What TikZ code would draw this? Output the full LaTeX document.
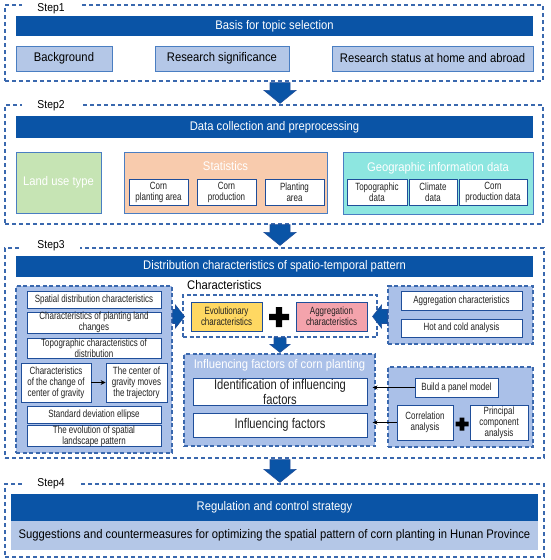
\documentclass[tikz,border=0pt]{standalone}
\usepackage{fontspec}
\setmainfont[FakeStretch=0.9]{Liberation Sans}
\newfontfamily\narrowfont[FakeStretch=0.76]{Liberation Sans}
\newfontfamily\midfont[FakeStretch=0.8]{Liberation Sans}
\usetikzlibrary{calc,arrows.meta}
\definecolor{barblue}{HTML}{0A54A6}
\definecolor{lightbox}{HTML}{B4C7E7}
\definecolor{boxedge}{HTML}{4A7EC2}
\definecolor{dashblue}{HTML}{3A68AE}
\definecolor{panelfill}{HTML}{AAC0E8}
\definecolor{inedge}{HTML}{1F4E9A}
\definecolor{landgreen}{HTML}{C6E4B4}
\definecolor{peach}{HTML}{F8CBAD}
\definecolor{turq}{HTML}{8DE6E0}
\definecolor{yellowbox}{HTML}{FFD862}
\definecolor{pinkbox}{HTML}{F4A3AC}
\definecolor{arrowblue}{HTML}{0A54A6}
\definecolor{softtext}{HTML}{222222}
\newcommand\downblock[5]{%
  \path[block] let \p1=(#1), \p2=(#2) in
  (\x1-#3,\y1) -- (\x1-#3,\y2+#5) -- (\x1-#4,\y2+#5) -- (\x1,\y2) --
  (\x1+#4,\y2+#5) -- (\x1+#3,\y2+#5) -- (\x1+#3,\y1) -- cycle;}
\newcommand\rblock[5]{%
  \path[block] let \p1=(#1), \p2=(#2) in
  (\x1,\y1-#3) -- (\x2-#5,\y1-#3) -- (\x2-#5,\y1-#4) -- (\x2,\y1) --
  (\x2-#5,\y1+#4) -- (\x2-#5,\y1+#3) -- (\x1,\y1+#3) -- cycle;}
\newcommand\lblock[5]{%
  \path[block] let \p1=(#1), \p2=(#2) in
  (\x1,\y1-#3) -- (\x2+#5,\y1-#3) -- (\x2+#5,\y1-#4) -- (\x2,\y1) --
  (\x2+#5,\y1+#4) -- (\x2+#5,\y1+#3) -- (\x1,\y1+#3) -- cycle;}
\newcommand\plusmark[3]{%
  \fill let \p1=(#1) in (\x1-#2,\y1-#3) rectangle (\x1+#2,\y1+#3)
  (\x1-#3,\y1-#2) rectangle (\x1+#3,\y1+#2);}
\begin{document}
\begin{tikzpicture}[x=1pt,y=-1pt,
 area/.style n args={4}{minimum width={#3-#1}, minimum height={#4-#2}, at={({(#1+#3)/2},{(#2+#4)/2})}},
 bigtext/.style={font=\fontsize{12.5}{14}\selectfont},
 midtext/.style={font=\midfont\fontsize{14}{15}\selectfont},
 smalltext/.style={font=\narrowfont\fontsize{10.5}{11}\selectfont},
 stepframe/.style={draw=dashblue, line width=1.2pt, dash pattern=on 4pt off 3pt, inner sep=0pt},
 steplabel/.style={fill=white, minimum width=58pt, inner sep=1pt, font=\fontsize{11.5}{13}\selectfont},
 bar/.style={fill=barblue, text=white, inner sep=0pt, bigtext},
 lbox/.style={fill=lightbox, draw=boxedge, line width=1pt, inner sep=0pt, bigtext},
 group/.style={draw=boxedge, line width=1pt, inner sep=0pt},
 grouptitle/.style={text=white, inner sep=0pt, bigtext},
 wbox/.style={fill=white, draw=inedge, line width=0.8pt, inner sep=0pt, align=center, text=softtext, smalltext},
 panel/.style={fill=panelfill, draw=dashblue, line width=1.1pt, dash pattern=on 4pt off 2.5pt, inner sep=0pt},
 block/.style={fill=arrowblue, draw=inedge, line width=0.6pt},
 thinarrow/.style={-{Stealth[length=5pt,width=4pt]}, line width=0.6pt},
 midarrow/.style={-{Stealth[length=5pt,width=5pt]}, line width=1.3pt},
]
\useasboundingbox (0,0) rectangle (550,560);

% ---------- Step 1 ----------
\node[stepframe, area={5}{5}{543}{81}] (step1) {};
\node[steplabel] (lab1) at (51,9) {Step1};
\node[bar, area={16}{16}{533}{36}] (bar1) {Basis for topic selection};
\node[lbox, area={16}{46}{112}{71}] (bg) {Background};
\node[lbox, area={155}{46}{289}{71}] (sig) {Research significance};
\node[lbox, area={332}{46}{533}{71}] (status) {Research status at home and abroad};

% ---------- Step 2 ----------
\node[stepframe, area={5}{105}{543}{224}] (step2) {};
\node[steplabel] (lab2) at (51,105.5) {Step2};
\node[bar, area={16}{116}{533}{138}] (bar2) {Data collection and preprocessing};
\node[group, fill=landgreen, area={16}{152}{101}{213}, text=white, bigtext] (land) {Land use type};
\node[group, fill=peach, area={124}{152}{327}{213}] (stat) {};
\node[grouptitle] (stattitle) at (225.5,166) {Statistics};
\node[wbox, area={129}{179}{188}{205}] (cpa) {Corn\\planting area};
\node[wbox, area={197}{179}{256}{205}] (cp) {Corn\\production};
\node[wbox, area={265}{179}{324}{205}] (pa) {Planting\\area};
\node[group, fill=turq, area={343}{152}{533}{214}] (geo) {};
\node[grouptitle] (geotitle) at (438,168) {Geographic information data};
\node[wbox, area={347}{179}{407}{205}] (topo) {Topographic\\data};
\node[wbox, area={409}{179}{457}{205}] (clim) {Climate\\data};
\node[wbox, area={459}{179}{527}{205}] (cpd) {Corn\\production data};

% ---------- Step 3 ----------
\node[stepframe, area={5}{248}{544}{458}] (step3) {};
\node[steplabel] (lab3) at (51,246) {Step3};
\node[bar, area={16}{256}{533}{277}] (bar3) {Distribution characteristics of spatio-temporal pattern};

\node[panel, area={16}{286}{172}{453}] (lpanel) {};
\node[wbox, area={27}{291}{161}{308}] (l1) {Spatial distribution characteristics};
\node[wbox, area={27}{312}{161}{333}] (l2) {Characteristics of planting land\\changes};
\node[wbox, area={27}{338}{161}{358}] (l3) {Topographic characteristics of\\distribution};
\node[wbox, area={21}{363}{91}{402}] (l4a) {Characteristics\\of the change of\\center of gravity};
\node[wbox, area={106}{363}{167}{402}] (l4b) {The center of\\gravity moves\\the trajectory};
\node[wbox, area={27}{406}{161}{423}] (l5) {Standard deviation ellipse};
\node[wbox, area={27}{426}{161}{446}] (l6) {The evolution of spatial\\landscape pattern};
\draw[midarrow] (l4a.east) -- (l4b.west);

\node[anchor=west, inner sep=0pt, bigtext] (charlab) at (187,285) {Characteristics};
\node[panel, fill=white, area={183}{295}{377}{337}] (charbox) {};
\node[wbox, fill=yellowbox, area={191}{302}{262}{331}] (evo) {Evolutionary\\characteristics};
\node[wbox, fill=pinkbox, area={296}{302}{367}{331}] (aggc) {Aggregation\\characteristics};
\coordinate (plusA) at (279,317);
\plusmark{plusA}{10pt}{3.2pt}

\node[panel, area={388}{286}{533}{344}] (rtpanel) {};
\node[wbox, area={401}{291}{522}{310}] (ag2) {Aggregation characteristics};
\node[wbox, area={401}{319}{522}{337}] (hot) {Hot and cold analysis};

\node[panel, area={184}{354}{375}{446}] (infpanel) {};
\node[grouptitle] (inftitle) at (279.5,365) {Influencing factors of corn planting};
\node[wbox, midtext, area={193}{378}{367}{405}] (ident) {Identification of influencing\\factors};
\node[wbox, midtext, area={193}{413}{367}{437}] (inf) {Influencing factors};

\node[panel, area={388}{367}{533}{447}] (rbpanel) {};
\node[wbox, area={415}{378}{498}{397}] (pmodel) {Build a panel model};
\node[wbox, area={397}{405}{453}{440}] (corr) {Correlation\\analysis};
\node[wbox, area={470}{405}{528}{440}] (pca) {Principal\\component\\analysis};
\coordinate (plusB) at (462,424);
\plusmark{plusB}{6.5pt}{2.3pt}

\coordinate (t1) at ($(pmodel.west -| infpanel.east)+(-3,0)$);
\coordinate (t2) at ($(corr.west -| infpanel.east)+(-3,0)$);
\draw[thinarrow] (pmodel.west) -- (t1);
\draw[thinarrow] (corr.west) -- (t2);

% side and inner block arrows
\coordinate (la1) at (lpanel.east |- evo.east);
\coordinate (la2) at ($(charbox.west |- evo.west)+(2,0)$);
\rblock{la1}{la2}{7pt}{11.5pt}{9pt}
\coordinate (ra1) at (rtpanel.west |- aggc.east);
\coordinate (ra2) at ($(charbox.east |- aggc.east)+(-5,0)$);
\lblock{ra1}{ra2}{7pt}{11.5pt}{9pt}
\coordinate (da1) at (charbox.south);
\coordinate (da2) at ($(infpanel.north)+(0.5,-1)$);
\downblock{da1}{da2}{6pt}{10pt}{8pt}

% ---------- Step 4 ----------
\node[stepframe, area={5}{484}{544}{557}] (step4) {};
\node[steplabel] (lab4) at (51,483.5) {Step4};
\node[bar, area={11}{494}{538}{521}] (bar4) {Regulation and control strategy};
\node[fill=lightbox, inner sep=0pt, bigtext, area={11}{521}{538}{550}] (sugg) {Suggestions and countermeasures for optimizing the spatial pattern of corn planting in Hunan Province};

% ---------- step-to-step arrows ----------
\coordinate (s12a) at ($(step1.south)+(6,1)$);
\coordinate (s12b) at ($(step2.north)+(6,-1)$);
\downblock{s12a}{s12b}{10pt}{16pt}{13pt}
\coordinate (s23a) at ($(step2.south)+(6,0)$);
\coordinate (s23b) at ($(step3.north)+(5.5,-2)$);
\downblock{s23a}{s23b}{10pt}{16pt}{13pt}
\coordinate (s34a) at ($(step3.south)+(5.5,1)$);
\coordinate (s34b) at ($(step4.north)+(5.5,-1)$);
\downblock{s34a}{s34b}{10pt}{16pt}{13pt}
\end{tikzpicture}
\end{document}
